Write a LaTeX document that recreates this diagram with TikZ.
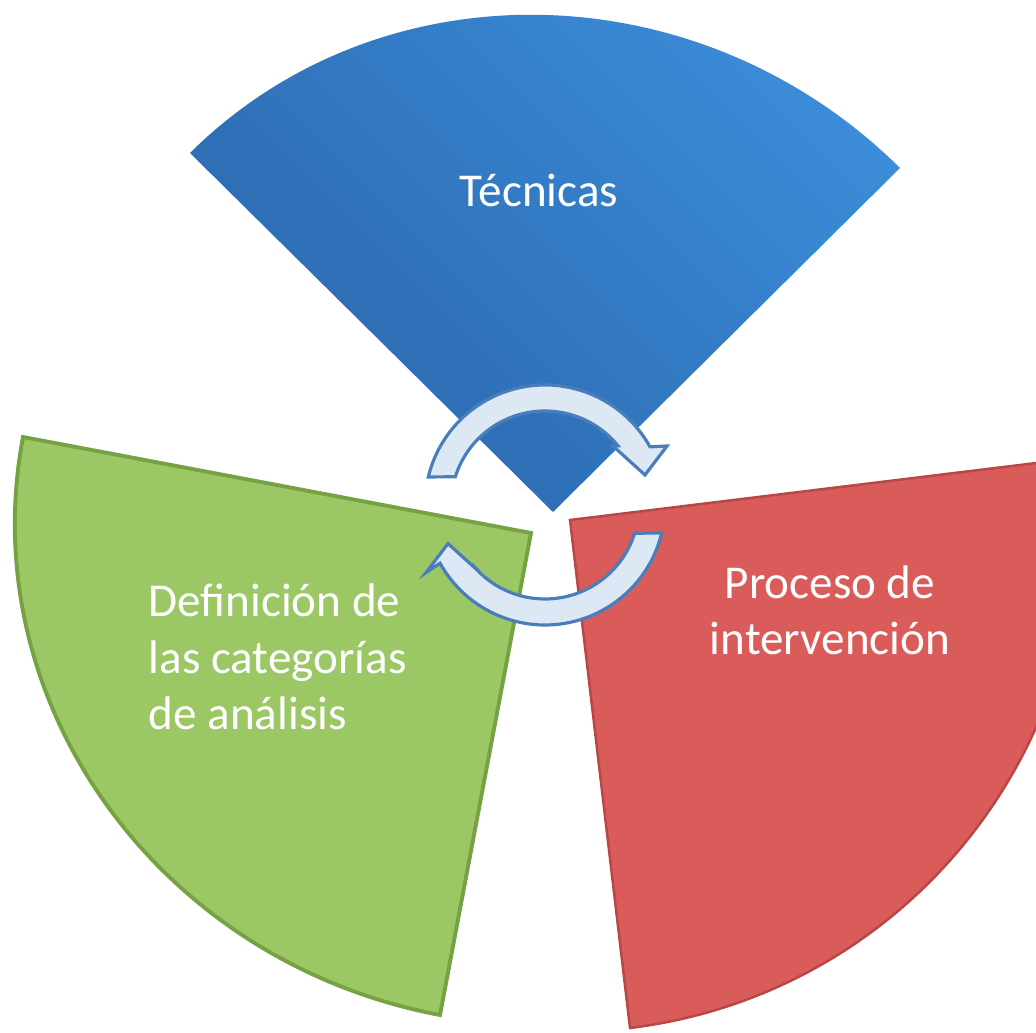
\documentclass[tikz,border=0pt]{standalone}
\usepackage{fontspec}
\setmainfont{Carlito}
\begin{document}
\begin{tikzpicture}[x=0.01cm,y=0.01cm,
  sectortext/.style={text=white,inner sep=0pt,font=\fontsize{13.4}{16}\selectfont},
  cyclearrow/.style={fill=arrowfill,draw=arrowline,line width=0.9pt,line join=miter}]
\definecolor{bluelight}{HTML}{3C8DDA}
\definecolor{bluedark}{HTML}{2A67AC}
\definecolor{greenfill}{HTML}{9BC765}
\definecolor{greenline}{HTML}{76A244}
\definecolor{redfill}{HTML}{D95B5A}
\definecolor{redline}{HTML}{B84745}
\definecolor{arrowfill}{HTML}{DDE8F5}
\definecolor{arrowline}{HTML}{4A7EBB}
\clip (0,0) rectangle (1036,1033);
\fill[white] (0,0) rectangle (1036,1033);
% blue sector
\coordinate (bc) at (553,521);
\coordinate (ba) at (190,880);
\coordinate (bb) at (900,865);
\shade[top color=bluelight,bottom color=bluedark,shading angle=-45]
  (bc) -- (ba) .. controls (381.6,1070) and (699.5,1063.3) .. (bb) -- cycle;
% green sector
\coordinate (gc) at (531,500);
\coordinate (ga) at (23,596);
\coordinate (gb) at (440,18);
\draw[fill=greenfill,draw=greenline,line width=1.1pt,line join=miter]
  (gc) -- (ga) .. controls (-27.3,329.8) and (159.4,71) .. (gb) -- cycle;
% red sector
\coordinate (rc) at (570,513);
\coordinate (ra) at (1077,575);
\coordinate (rb) at (630,5);
\draw[fill=redfill,draw=redline,line width=0.7pt,line join=miter]
  (rc) -- (ra) .. controls (1110.1,294.4) and (910,39.2) .. (rb) -- cycle;
% arrows
\coordinate (ac) at (545,528);
\coordinate (pivot) at (546.5,523.7);
\path[cyclearrow] ([shift={(166.5:120)}]ac) arc[start angle=166.5,end angle=29,radius=120]
  -- (667,587) -- (645,558) -- (613,587) -- ([shift={(39:94)}]ac)
  arc[start angle=39,end angle=162.5,radius=94] -- cycle;
\path[cyclearrow,rotate around={180:(pivot)}] ([shift={(166.5:120)}]ac) arc[start angle=166.5,end angle=29,radius=120]
  -- (667,587) -- (645,558) -- (613,587) -- ([shift={(39:94)}]ac)
  arc[start angle=39,end angle=162.5,radius=94] -- cycle;
% texts
\node[sectortext] (tec) at (539,843) {Técnicas};
\node[sectortext,align=left,anchor=west] (def) at (148,376) {Definición de\\las categorías\\de análisis};
\node[sectortext,align=center] (pro) at (830,423) {Proceso de\\intervención};
\end{tikzpicture}
\end{document}
